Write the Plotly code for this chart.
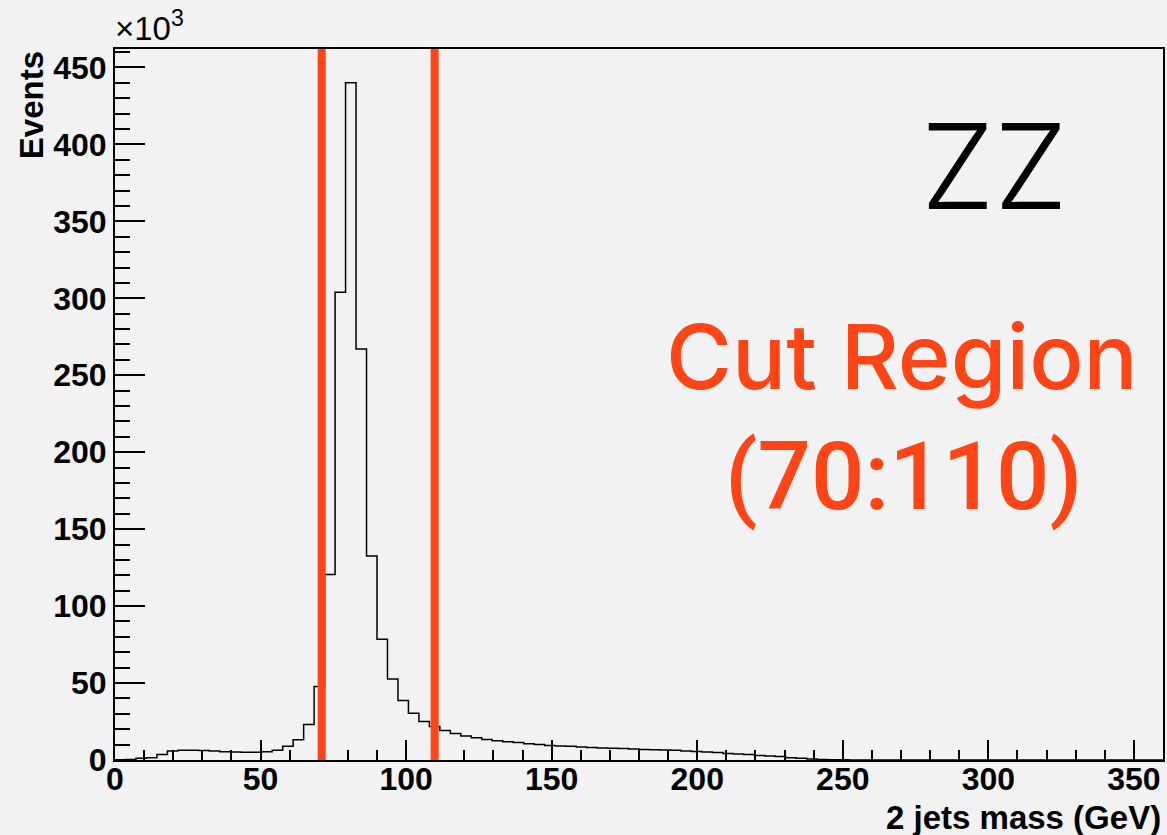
import numpy as np
import plotly.graph_objects as go

# ---- data ----
bin_width = 3.6  # GeV
x_min, x_max = 0, 360
events_k = [  # events per bin, in units of 10^3
    0.2, 0.4, 1.2, 1.5, 3.5, 5.9, 6.3, 6.3, 6.1, 5.9,
    5.4, 5.2, 5.0, 5.0, 5.4, 6.3, 8.9, 13.2, 23.0, 47.8,
    120.5, 304.0, 440.0, 267.0, 132.5, 78.4, 52.7, 38.6, 30.4, 25.0,
    21.7, 19.1, 17.3, 15.6, 14.5, 13.4, 12.5, 11.9, 11.3, 10.6,
    10.0, 9.5, 9.1, 8.9, 8.4, 8.2, 7.8, 7.6, 7.4, 7.1,
    6.9, 6.7, 6.5, 6.3, 5.8, 5.6, 5.2, 4.8, 4.3, 3.9,
    3.5, 3.0, 2.6, 2.2, 1.5, 1.1, 0.6, 0.4, 0.2, 0.1,
    0, 0, 0, 0, 0, 0, 0, 0, 0, 0,
    0, 0, 0, 0, 0, 0, 0, 0, 0, 0,
    0, 0, 0, 0, 0, 0, 0, 0, 0, 0,
]
cut_lines = [71.0, 109.8]
x_title = "2 jets mass (GeV)"
y_title = "Events"
sample_label = "ZZ"
cut_label_1 = "Cut Region"
cut_label_2 = "(70:110)"

RED = "#ff4416"
BG = "#f2f2f2"
SANS = "Liberation Sans, Arial, sans-serif"

edges = x_min + np.arange(len(events_k) + 1) * bin_width
y_step = list(events_k) + [events_k[-1]]
y_max = max(events_k) * 1.05

fig = go.Figure()
fig.add_trace(go.Scatter(
    x=edges, y=y_step, mode="lines", line_shape="hv",
    line=dict(color="black", width=1.5), hoverinfo="skip", showlegend=False,
))

for xc in cut_lines:
    fig.add_shape(type="line", x0=xc, x1=xc, y0=0, y1=1, xref="x", yref="paper",
                  line=dict(color=RED, width=8), layer="above")

tickfont = dict(family=SANS, size=32, color="black", weight="bold")

fig.update_xaxes(
    range=[x_min, x_max], dtick=50, tick0=0, ticks="inside", ticklen=20, tickwidth=1.5,
    tickcolor="black", showline=True, linecolor="black", linewidth=2, mirror=True,
    showgrid=False, zeroline=False, tickfont=tickfont, ticklabelstandoff=-10,
    minor=dict(dtick=10, ticks="inside", ticklen=10, tickwidth=1.5, tickcolor="black", showgrid=False),
)
fig.update_yaxes(
    range=[0, y_max], dtick=50, tick0=0, ticks="inside", ticklen=30, tickwidth=1.5,
    tickcolor="black", showline=True, linecolor="black", linewidth=2, mirror=True,
    showgrid=False, zeroline=False, tickfont=tickfont,
    minor=dict(dtick=10, ticks="inside", ticklen=15, tickwidth=1.5, tickcolor="black", showgrid=False),
)

ann = []
ann.append(dict(text="×10<sup>3</sup>", xref="paper", yref="paper", x=-0.002, y=1.0,
                xanchor="left", yanchor="bottom", showarrow=False,
                font=dict(family=SANS, size=33, color="black")))
ann.append(dict(text=y_title, xref="paper", yref="paper", x=-0.08, y=1.0, textangle=-90,
                xanchor="center", yanchor="top", showarrow=False,
                font=dict(family=SANS, size=33, color="black", weight="bold")))
ann.append(dict(text=x_title, xref="paper", yref="paper", x=1.0, y=-0.081,
                xanchor="right", yanchor="middle", showarrow=False,
                font=dict(family=SANS, size=33, color="black", weight="bold")))
ann.append(dict(text=sample_label, xref="x", yref="y", x=302, y=386,
                xanchor="center", yanchor="middle", showarrow=False,
                font=dict(family="Inter, Liberation Sans, sans-serif", size=118, color="black", weight=300)))
ann.append(dict(text=cut_label_1, xref="x", yref="y", x=270.5, y=262,
                xanchor="center", yanchor="middle", showarrow=False,
                font=dict(family="Inter, Liberation Sans, sans-serif", size=90, color=RED, weight=500)))
ann.append(dict(text=cut_label_2, xref="x", yref="y", x=271, y=184,
                xanchor="center", yanchor="middle", showarrow=False,
                font=dict(family="Roboto, Liberation Sans, sans-serif", size=94, color=RED, weight=500)))

fig.update_layout(
    width=1167, height=835, autosize=False,
    margin=dict(l=115, r=2, t=49, b=75),
    paper_bgcolor=BG, plot_bgcolor=BG,
    annotations=ann, showlegend=False,
)

fig.write_html(
    "out.html",
    config={"displayModeBar": False},
    post_script="document.documentElement.style.margin='0';document.body.style.margin='0';"
                "document.body.style.overflow='hidden';document.body.style.background='#f2f2f2';",
)
